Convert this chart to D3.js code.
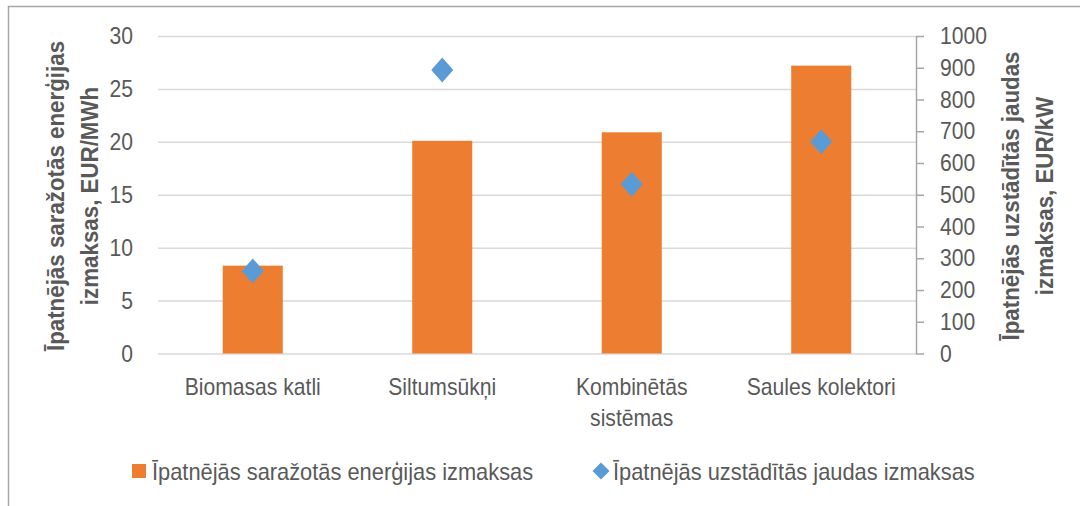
<!DOCTYPE html>
<html>
<head>
<meta charset="utf-8">
<script src="https://cdn.jsdelivr.net/npm/d3@7"></script>
<style>
  body { margin: 0; background: #fff; }
  svg text { font-family: "Liberation Sans Narrow", "Arial Narrow", "Liberation Sans", Arial, sans-serif; fill: #595959; }
</style>
</head>
<body>
<div class="chart"></div>
<script>
// chart data
let categories = [['Biomasas katli'], ['Siltumsūkņi'], ['Kombinētās', 'sistēmas'], ['Saules kolektori']];
let energyCost = [8.3, 20.1, 20.9, 27.2];      // EUR/MWh, left axis
let powerCost = [260, 893, 533, 667];          // EUR/kW, right axis
let leftTicks = [0, 5, 10, 15, 20, 25, 30];
let rightTicks = [0, 100, 200, 300, 400, 500, 600, 700, 800, 900, 1000];
let seriesNames = ['Īpatnējās saražotās enerģijas izmaksas', 'Īpatnējās uzstādītās jaudas izmaksas'];
let leftTitle = ['Īpatnējās saražotās enerģijas', 'izmaksas, EUR/MWh'];
let rightTitle = ['Īpatnējās uzstādītās jaudas', 'izmaksas, EUR/kW'];

// squeeze text horizontally, no narrow font installed
function condense(sel, k) {
  sel.each(function() {
    let w = this.getComputedTextLength();
    d3.select(this).attr('textLength', w * k).attr('lengthAdjust', 'spacingAndGlyphs');
  });
}

function drawChart(d3) {
  let width = 1080;
  let height = 506;
  let plot = { left: 158, right: 916, top: 36, bottom: 353.5 };
  let squeeze = 0.88;

  let svg = d3.select('.chart')
    .append('svg')
    .attr('width', width)
    .attr('height', height)
    .attr('viewBox', '0 0 ' + width + ' ' + height);

  // chart area border (cut off at right and bottom like the picture)
  svg.append('rect')
    .attr('x', 8.5).attr('y', 6.5)
    .attr('width', width + 20).attr('height', height + 20)
    .attr('fill', 'none')
    .attr('stroke', '#a6a6a6')
    .attr('stroke-width', 1.5);

  let keys = categories.map(function(c) { return c.join(' '); });

  let xScale = d3.scaleBand()
    .domain(keys)
    .range([plot.left, plot.right])
    .paddingInner(0.683)
    .paddingOuter(0.3415);

  let yLeft = d3.scaleLinear().domain([0, 30]).range([plot.bottom, plot.top]);
  let yRight = d3.scaleLinear().domain([0, 1000]).range([plot.bottom, plot.top]);

  // gridlines + left axis labels
  let leftAxis = svg.append('g')
    .attr('class', 'axis axis--left')
    .attr('transform', 'translate(' + plot.left + ',0)')
    .call(d3.axisLeft(yLeft).tickValues(leftTicks).tickSize(-(plot.right - plot.left)).tickPadding(25));
  leftAxis.select('.domain').remove();
  leftAxis.selectAll('line').attr('stroke', '#d9d9d9').attr('stroke-width', 1.5);
  leftAxis.selectAll('text')
    .style('font-size', '24px')
    .style('fill', '#595959')
    .call(condense, squeeze);

  // right axis
  let rightAxis = svg.append('g')
    .attr('class', 'axis axis--right')
    .attr('transform', 'translate(' + plot.right + ',0)')
    .call(d3.axisRight(yRight).tickValues(rightTicks).tickFormat(d3.format('d'))
      .tickSize(8).tickSizeOuter(0).tickPadding(16));
  rightAxis.select('.domain').attr('stroke', '#a6a6a6').attr('stroke-width', 1.5);
  rightAxis.selectAll('line').attr('stroke', '#a6a6a6').attr('stroke-width', 1.5);
  rightAxis.selectAll('text')
    .style('font-size', '24px')
    .style('fill', '#595959')
    .call(condense, squeeze);

  // bars
  svg.selectAll('.bar')
    .data(energyCost)
    .enter().append('rect')
    .attr('class', 'bar')
    .attr('x', function(d, i) { return xScale(keys[i]); })
    .attr('y', function(d) { return yLeft(d); })
    .attr('width', xScale.bandwidth())
    .attr('height', function(d) { return yLeft(0) - yLeft(d); })
    .attr('fill', '#ed7d31');

  // diamonds
  let diamond = function(cx, cy, w, h) {
    return 'M' + cx + ',' + (cy - h) + 'L' + (cx + w) + ',' + cy + 'L' + cx + ',' + (cy + h) + 'L' + (cx - w) + ',' + cy + 'Z';
  };
  svg.selectAll('.point')
    .data(powerCost)
    .enter().append('path')
    .attr('class', 'point')
    .attr('d', function(d, i) {
      return diamond(xScale(keys[i]) + xScale.bandwidth() / 2, yRight(d), 11, 12.5);
    })
    .attr('fill', '#5b9bd5');

  // category labels
  let catLabels = svg.selectAll('.cat')
    .data(categories)
    .enter().append('text')
    .attr('class', 'cat')
    .attr('text-anchor', 'middle')
    .style('font-size', '24px');
  catLabels.selectAll('tspan')
    .data(function(d, i) { return d.map(function(t) { return { t: t, i: i }; }); })
    .enter().append('tspan')
    .attr('x', function(d) { return xScale(keys[d.i]) + xScale.bandwidth() / 2; })
    .attr('y', function(d, j) { return 395 + j * 31; })
    .text(function(d) { return d.t; })
    .call(condense, squeeze);

  // axis titles
  let drawTitle = function(lines, cx, cy) {
    let t = svg.append('text')
      .attr('transform', 'translate(' + cx + ',' + cy + ') rotate(-90)')
      .attr('text-anchor', 'middle')
      .style('font-size', '24px')
      .style('font-weight', 'bold');
    lines.forEach(function(line, j) {
      t.append('tspan').attr('x', 0).attr('y', j * 34).text(line).call(condense, 0.93);
    });
  };
  drawTitle(leftTitle, 64, 196);
  drawTitle(rightTitle, 1019, 196);

  // legend
  let legend = svg.append('g').attr('class', 'legend');
  legend.append('rect')
    .attr('x', 132).attr('y', 464)
    .attr('width', 14).attr('height', 14)
    .attr('fill', '#ed7d31');
  legend.append('text')
    .attr('x', 152).attr('y', 480)
    .style('font-size', '24px')
    .text(seriesNames[0])
    .call(condense, 0.91);
  legend.append('path')
    .attr('d', diamond(601, 471, 8.5, 8.5))
    .attr('fill', '#5b9bd5');
  legend.append('text')
    .attr('x', 613).attr('y', 480)
    .style('font-size', '24px')
    .text(seriesNames[1])
    .call(condense, 0.91);
}

drawChart(d3);
</script>
</body>
</html>
